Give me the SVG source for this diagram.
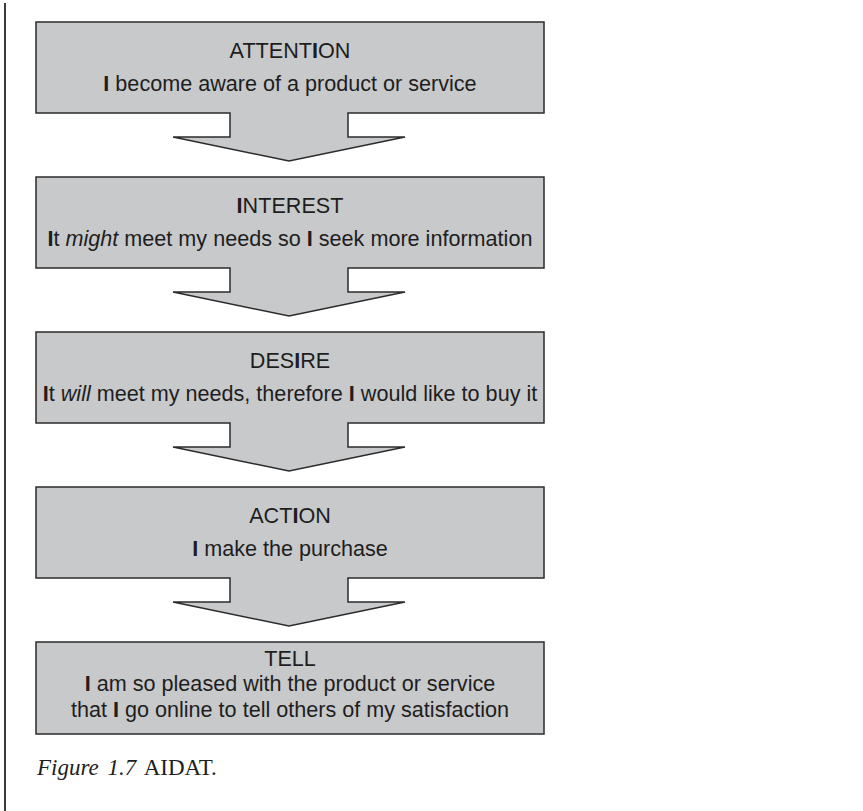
<svg xmlns="http://www.w3.org/2000/svg" width="863" height="811" viewBox="0 0 863 811">
<style>
.box{fill:#c8c9cb;stroke:#2b2b2b;stroke-width:1.5;stroke-linejoin:miter}
.t{font-family:"Liberation Sans",Arial,sans-serif;font-size:21.6px;fill:#1e1e1e;text-anchor:middle}
.b{font-weight:bold}
.i{font-style:italic}
.cap{font-family:"Liberation Serif","Times New Roman",serif;font-size:23px;fill:#1e1e1e;word-spacing:3px}
</style>
<rect width="863" height="811" fill="#ffffff"/>
<line x1="5" y1="3" x2="5" y2="811" stroke="#3a3a3a" stroke-width="2"/>
<g id="connectors"></g>
<g id="attention">
<path class="box" d="M36,22 H544 V113 H348 V137 H405 L289,161 L173,137 H230 V113 H36 Z"/>
<text class="t" x="290" y="58">ATTENT<tspan class="b">I</tspan>ON</text>
<text class="t" x="290" y="91"><tspan class="b">I</tspan> become aware of a product or service</text>
</g>
<g id="interest">
<path class="box" d="M36,177 H544 V268 H348 V292 H405 L289,316 L173,292 H230 V268 H36 Z"/>
<text class="t" x="290" y="213"><tspan class="b">I</tspan>NTEREST</text>
<text class="t" x="290" y="246"><tspan class="b">I</tspan>t <tspan class="i">might</tspan> meet my needs so <tspan class="b">I</tspan> seek more information</text>
</g>
<g id="desire">
<path class="box" d="M36,332 H544 V423 H348 V447 H405 L289,471 L173,447 H230 V423 H36 Z"/>
<text class="t" x="290" y="368">DES<tspan class="b">I</tspan>RE</text>
<text class="t" x="290" y="401"><tspan class="b">I</tspan>t <tspan class="i">will</tspan> meet my needs, therefore <tspan class="b">I</tspan> would like to buy it</text>
</g>
<g id="action">
<path class="box" d="M36,487 H544 V578 H348 V602 H405 L289,626 L173,602 H230 V578 H36 Z"/>
<text class="t" x="290" y="523">ACT<tspan class="b">I</tspan>ON</text>
<text class="t" x="290" y="556"><tspan class="b">I</tspan> make the purchase</text>
</g>
<g id="tell">
<rect class="box" x="36" y="642" width="508" height="92"/>
<text class="t" x="290" y="666">TELL</text>
<text class="t" x="290" y="691"><tspan class="b">I</tspan> am so pleased with the product or service</text>
<text class="t" x="290" y="717">that <tspan class="b">I</tspan> go online to tell others of my satisfaction</text>
</g>
<text class="cap" x="37" y="775"><tspan class="i">Figure 1.7</tspan> AIDAT.</text>
</svg>
